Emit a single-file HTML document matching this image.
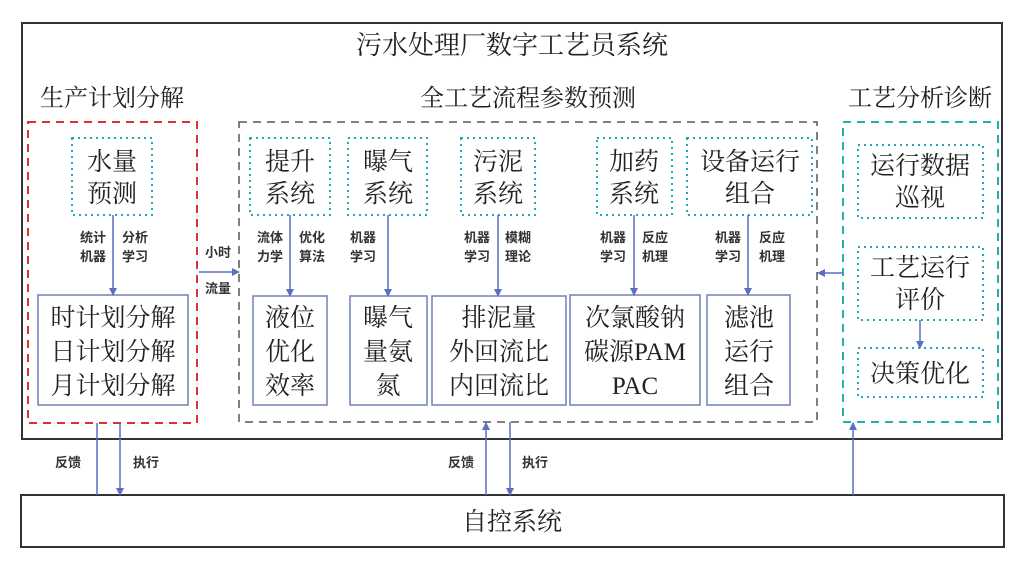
<!DOCTYPE html>
<html><head><meta charset="utf-8"><style>
body{margin:0;background:#fff}
svg text{font-family:"Liberation Serif","Noto Serif CJK SC",serif;fill:#222}
.s{font-size:13px;font-family:"Liberation Sans","Noto Sans CJK SC",sans-serif;fill:#333;font-weight:bold}
</style></head><body>
<svg width="1026" height="564" viewBox="0 0 1026 564" xmlns="http://www.w3.org/2000/svg">
<defs><marker id="a" markerWidth="8" markerHeight="8" refX="7" refY="4" orient="auto" markerUnits="userSpaceOnUse"><path d="M0,0L8,4L0,8z" fill="#5b6fc0"/></marker></defs>
<rect x="22" y="23" width="980" height="416" fill="#fff" stroke="#333" stroke-width="2"/>
<rect x="21" y="495" width="983" height="52" fill="#fff" stroke="#333" stroke-width="2"/>
<text x="512" y="54" font-size="26" text-anchor="middle">污水处理厂数字工艺员系统</text>
<text x="112" y="106" font-size="24" text-anchor="middle">生产计划分解</text>
<text x="528" y="106" font-size="24" text-anchor="middle">全工艺流程参数预测</text>
<text x="920" y="106" font-size="24" text-anchor="middle">工艺分析诊断</text>
<text x="512" y="530" font-size="25" text-anchor="middle">自控系统</text>
<rect x="28" y="122" width="169" height="301" fill="none" stroke="#e03030" stroke-width="2" stroke-dasharray="8,6"/>
<rect x="239" y="122" width="578" height="300" fill="none" stroke="#555" stroke-width="1.5" stroke-dasharray="8,6"/>
<rect x="843" y="122" width="155" height="300" fill="none" stroke="#20b0b0" stroke-width="2" stroke-dasharray="8,6"/>
<g fill="none" stroke="#20a8b8" stroke-width="2" stroke-dasharray="2,4">
<rect x="72" y="138" width="80" height="77"/>
<rect x="250" y="138" width="80" height="77"/>
<rect x="348" y="138" width="79" height="77"/>
<rect x="461" y="138" width="74" height="77"/>
<rect x="597" y="138" width="75" height="77"/>
<rect x="687" y="138" width="125" height="77"/>
<rect x="858" y="145" width="125" height="73"/>
<rect x="858" y="247" width="125" height="73"/>
<rect x="858" y="348" width="125" height="49"/>
</g>
<g font-size="25" text-anchor="middle">
<text x="112" y="170">水量</text><text x="112" y="202">预测</text>
<text x="290" y="170">提升</text><text x="290" y="202">系统</text>
<text x="388" y="170">曝气</text><text x="388" y="202">系统</text>
<text x="498" y="170">污泥</text><text x="498" y="202">系统</text>
<text x="634" y="170">加药</text><text x="634" y="202">系统</text>
<text x="750" y="170">设备运行</text><text x="750" y="202">组合</text>
<text x="920" y="174">运行数据</text><text x="920" y="206">巡视</text>
<text x="920" y="276">工艺运行</text><text x="920" y="308">评价</text>
<text x="920" y="382">决策优化</text>
</g>
<g fill="none" stroke="#7080b8" stroke-width="1.5">
<rect x="38" y="295" width="150" height="110"/>
<rect x="253" y="296" width="74" height="109"/>
<rect x="350" y="296" width="77" height="109"/>
<rect x="432" y="296" width="134" height="109"/>
<rect x="570" y="295" width="130" height="110"/>
<rect x="707" y="295" width="83" height="110"/>
</g>
<g font-size="25" text-anchor="middle">
<text x="113" y="326">时计划分解</text><text x="113" y="360">日计划分解</text><text x="113" y="394">月计划分解</text>
<text x="290" y="326">液位</text><text x="290" y="360">优化</text><text x="290" y="394">效率</text>
<text x="388" y="326">曝气</text><text x="388" y="360">量氨</text><text x="388" y="394">氮</text>
<text x="499" y="326">排泥量</text><text x="499" y="360">外回流比</text><text x="499" y="394">内回流比</text>
<text x="635" y="326">次氯酸钠</text><text x="635" y="360">碳源PAM</text><text x="635" y="394">PAC</text>
<text x="749" y="326">滤池</text><text x="749" y="360">运行</text><text x="749" y="394">组合</text>
</g>
<g stroke="#5b6fc0" stroke-width="1.5" marker-end="url(#a)">
<line x1="113" y1="215" x2="113" y2="295"/>
<line x1="290" y1="215" x2="290" y2="296"/>
<line x1="388" y1="215" x2="388" y2="296"/>
<line x1="498" y1="215" x2="498" y2="296"/>
<line x1="634" y1="215" x2="634" y2="295"/>
<line x1="748" y1="215" x2="748" y2="295"/>
<line x1="199" y1="272" x2="239" y2="272"/>
<line x1="843" y1="273" x2="818" y2="273"/>
<line x1="920" y1="320" x2="920" y2="348"/>
<line x1="120" y1="423" x2="120" y2="495"/>
<line x1="510" y1="422" x2="510" y2="495"/>
<line x1="486" y1="495" x2="486" y2="423"/>
<line x1="853" y1="495" x2="853" y2="423"/>
</g>
<line x1="97" y1="423" x2="97" y2="495" stroke="#5b6fc0" stroke-width="1.5"/>
<g text-anchor="middle">
<text x="93" y="242" class="s">统计</text><text x="93" y="261" class="s">机器</text>
<text x="135" y="242" class="s">分析</text><text x="135" y="261" class="s">学习</text>
<text x="270" y="242" class="s">流体</text><text x="270" y="261" class="s">力学</text>
<text x="312" y="242" class="s">优化</text><text x="312" y="261" class="s">算法</text>
<text x="363" y="242" class="s">机器</text><text x="363" y="261" class="s">学习</text>
<text x="477" y="242" class="s">机器</text><text x="477" y="261" class="s">学习</text>
<text x="518" y="242" class="s">模糊</text><text x="518" y="261" class="s">理论</text>
<text x="613" y="242" class="s">机器</text><text x="613" y="261" class="s">学习</text>
<text x="655" y="242" class="s">反应</text><text x="655" y="261" class="s">机理</text>
<text x="728" y="242" class="s">机器</text><text x="728" y="261" class="s">学习</text>
<text x="772" y="242" class="s">反应</text><text x="772" y="261" class="s">机理</text>
<text x="218" y="257" class="s">小时</text><text x="218" y="293" class="s">流量</text>
<text x="68" y="467" class="s">反馈</text><text x="146" y="467" class="s">执行</text>
<text x="461" y="467" class="s">反馈</text><text x="535" y="467" class="s">执行</text>
</g>
</svg>
</body></html>
